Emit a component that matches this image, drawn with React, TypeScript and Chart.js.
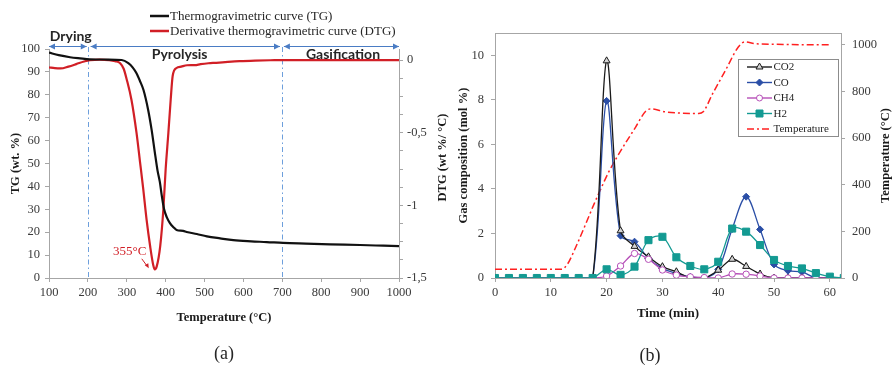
import React, { useEffect, useRef } from 'react';
import { Chart, registerables } from 'chart.js';
Chart.register(...registerables);

const SERIF = "'Liberation Serif', 'Times New Roman', Times, serif";
const SANS = "Lato, 'Open Sans', 'Liberation Sans', sans-serif";
const AXIS = '#a6a6a6';
const TICK_TEXT = '#3a3a3a';
const TITLE_TEXT = '#1a1a1a';

// ---------- Panel (a) data ----------
const tgTemps = [100, 125, 154, 180, 205, 250, 287, 304, 315, 325, 334, 343, 355, 364, 372, 379, 385, 390, 396, 403, 411, 420, 428, 445, 454, 480, 506, 540, 574, 620, 660, 702, 760, 823, 900, 960, 1000];
const tgValues = [98.4, 97.3, 96.4, 95.9, 95.5, 95.4, 95.2, 93.8, 92.0, 89.4, 86.0, 82.1, 73.4, 64.6, 55.0, 47.0, 42.0, 36.0, 30.0, 26.5, 24.0, 22.2, 21.0, 20.6, 20.1, 19.2, 18.2, 17.3, 16.5, 16.0, 15.7, 15.3, 15.0, 14.7, 14.4, 14.1, 13.9];
const dtgTemps = [100, 115, 130, 150, 170, 190, 205, 230, 255, 270, 283, 292, 300, 312, 325, 334, 342, 351, 360, 368, 372, 377, 386, 394, 400, 407, 413, 418, 428, 440, 455, 475, 490, 510, 530, 560, 590, 630, 680, 700, 800, 900, 1000];
const dtgValues = [-0.05, -0.056, -0.058, -0.045, -0.028, -0.01, 0, 0.003, 0, -0.008, -0.022, -0.06, -0.135, -0.273, -0.5, -0.7, -0.88, -1.1, -1.28, -1.41, -1.44, -1.42, -1.28, -1.03, -0.75, -0.5, -0.27, -0.11, -0.055, -0.045, -0.036, -0.035, -0.028, -0.022, -0.019, -0.013, -0.008, -0.004, -0.001, 0, 0, 0, 0];
const dtgTickValues = [0, -0.125, -0.25, -0.375, -0.5, -0.625, -0.75, -0.875, -1, -1.125, -1.25, -1.375, -1.5];
const tgLegend = ['Thermogravimetric curve (TG)', 'Derivative thermogravimetric curve (DTG)'];
const phaseNames = ['Drying', 'Pyrolysis', 'Gasification'];
const phaseStarts = [100, 207, 704];
const phaseEnds = [197, 694, 1000];
const phaseLabelTemps = [156, 436, 856];
const phaseLines = [200, 700];
const peakLabel = '355°C';
const dtgTitle = 'DTG (wt %/ °C)';

// ---------- Panel (b) data ----------
const times = [0, 2.5, 5, 7.5, 10, 12.5, 15, 17.5, 20, 22.5, 25, 27.5, 30, 32.5, 35, 37.5, 40, 42.5, 45, 47.5, 50, 52.5, 55, 57.5, 60, 62.5];
const co2 = [0, 0, 0, 0, 0, 0, 0, 0, 9.75, 2.12, 1.42, 0.95, 0.51, 0.28, 0.0, 0.0, 0.35, 0.84, 0.52, 0.18, 0, 0, 0, 0, 0, 0];
const co = [0, 0, 0, 0, 0, 0, 0, 0, 7.95, 1.9, 1.63, 0.88, 0.43, 0.21, 0.05, 0.0, 0.39, 2.2, 3.65, 2.18, 0.61, 0.33, 0.27, 0.0, 0, 0];
const ch4 = [0, 0, 0, 0, 0, 0, 0, 0, 0.09, 0.54, 1.1, 0.84, 0.36, 0.13, 0.05, 0.02, 0.0, 0.18, 0.17, 0.09, 0, 0, 0, 0, 0, 0];
const h2 = [0, 0, 0, 0, 0, 0, 0, 0, 0.39, 0.14, 0.51, 1.7, 1.85, 0.93, 0.54, 0.39, 0.73, 2.22, 2.08, 1.48, 0.81, 0.54, 0.43, 0.22, 0.06, 0];
const tempTimes = [0, 5, 10, 12, 13, 14.5, 16.3, 17.8, 19.4, 20.3, 21.7, 25.2, 27, 28, 30.5, 33, 36.5, 37.3, 39, 41.3, 43.6, 44.8, 46.6, 50, 55, 60];
const tempValues = [37, 37, 37, 38, 60, 134, 234, 320, 405, 451, 512, 647, 715, 725, 712, 707, 705, 712, 790, 890, 990, 1012, 1004, 1002, 1000, 1000];
const seriesNames = ['CO2', 'CO', 'CH4', 'H2', 'Temperature'];
const tempTitle = 'Temperature (°C)';

const seriesStyle = [
  { color: '#1a1a1a', marker: 'triangle', fill: '#d4d4d4', radius: 4 },
  { color: '#2a4ea6', marker: 'rectRot', fill: '#2a4ea6', radius: 3.5 },
  { color: '#b64fb8', marker: 'circle', fill: '#ffffff', radius: 3.2 },
  { color: '#139a92', marker: 'rect', fill: '#139a92', radius: 5 },
  { color: '#ff2020', marker: 'none', fill: '#ff2020', radius: 0 },
];

const xy = (xs: number[], ys: number[]) => xs.map((x, i) => ({ x, y: ys[i] }));
const plain = (v: any) => String(v);

function arrowHead(ctx: CanvasRenderingContext2D, x: number, y: number, dir: number, len = 6, half = 3) {
  ctx.beginPath();
  ctx.moveTo(x, y);
  ctx.lineTo(x - dir * len, y - half);
  ctx.lineTo(x - dir * len, y + half);
  ctx.closePath();
  ctx.fill();
}

function drawVerticalTitle(ctx: CanvasRenderingContext2D, text: string, x: number, y: number) {
  ctx.save();
  ctx.translate(x, y);
  ctx.rotate(-Math.PI / 2);
  ctx.fillStyle = TITLE_TEXT;
  ctx.font = `bold 12.5px ${SERIF}`;
  ctx.textAlign = 'center';
  ctx.textBaseline = 'middle';
  ctx.fillText(text, 0, 0);
  ctx.restore();
}

function drawMarker(ctx: CanvasRenderingContext2D, kind: string, x: number, y: number, color: string, fill: string) {
  if (kind === 'none') return;
  ctx.save();
  ctx.setLineDash([]);
  ctx.strokeStyle = color;
  ctx.fillStyle = fill;
  ctx.lineWidth = 1;
  ctx.beginPath();
  if (kind === 'triangle') {
    const r = 4;
    ctx.moveTo(x, y - r);
    ctx.lineTo(x + r * 0.866, y + r * 0.5);
    ctx.lineTo(x - r * 0.866, y + r * 0.5);
    ctx.closePath();
  } else if (kind === 'rectRot') {
    const r = 3.5;
    ctx.moveTo(x, y - r);
    ctx.lineTo(x + r, y);
    ctx.lineTo(x, y + r);
    ctx.lineTo(x - r, y);
    ctx.closePath();
  } else if (kind === 'circle') {
    ctx.arc(x, y, 3, 0, Math.PI * 2);
  } else {
    ctx.rect(x - 3.5, y - 3.5, 7, 7);
  }
  ctx.fill();
  ctx.stroke();
  ctx.restore();
}

const panelAPlugin = {
  id: 'panelA',
  beforeDatasetsDraw(chart: any) {
    const { ctx, chartArea, scales } = chart;
    ctx.save();
    ctx.strokeStyle = '#6d9fdc';
    ctx.lineWidth = 1;
    ctx.setLineDash([5, 3, 1.5, 3]);
    phaseLines.forEach((v) => {
      const px = Math.round(scales.x.getPixelForValue(v)) + 0.5;
      ctx.beginPath();
      ctx.moveTo(px, chartArea.top - 2);
      ctx.lineTo(px, chartArea.bottom);
      ctx.stroke();
    });
    ctx.restore();
  },
  afterDatasetsDraw(chart: any) {
    const { ctx, chartArea, scales } = chart;
    ctx.save();
    // phase arrows
    const ay = chartArea.top - 2.5;
    ctx.strokeStyle = '#4a7cc4';
    ctx.fillStyle = '#4a7cc4';
    ctx.lineWidth = 1;
    phaseNames.forEach((_, i) => {
      const x0 = scales.x.getPixelForValue(phaseStarts[i]);
      const x1 = scales.x.getPixelForValue(phaseEnds[i]);
      ctx.beginPath();
      ctx.moveTo(x0, ay);
      ctx.lineTo(x1, ay);
      ctx.stroke();
      arrowHead(ctx, x0, ay, -1);
      arrowHead(ctx, x1, ay, 1);
    });
    // phase labels
    ctx.fillStyle = '#262626';
    ctx.font = `bold 14px ${SANS}`;
    ctx.textAlign = 'center';
    ctx.textBaseline = 'middle';
    const labelOffsets = [-13, 5, 5];
    phaseNames.forEach((name, i) => {
      ctx.fillText(name, scales.x.getPixelForValue(phaseLabelTemps[i]), chartArea.top + labelOffsets[i]);
    });
    // legend
    const lx = chartArea.left + 101;
    const colors = ['#111111', '#d11f26'];
    tgLegend.forEach((name, i) => {
      const ly = 16 + i * 15;
      ctx.strokeStyle = colors[i];
      ctx.lineWidth = 2.5;
      ctx.beginPath();
      ctx.moveTo(lx, ly);
      ctx.lineTo(lx + 19, ly);
      ctx.stroke();
      ctx.fillStyle = '#262626';
      ctx.font = `13px ${SERIF}`;
      ctx.textAlign = 'left';
      ctx.fillText(name, lx + 20, ly + 0.5);
    });
    // peak annotation
    let mi = 0;
    dtgValues.forEach((v, i) => { if (v < dtgValues[mi]) mi = i; });
    const mx = scales.x.getPixelForValue(dtgTemps[mi]);
    const my = scales.y2.getPixelForValue(dtgValues[mi]);
    ctx.fillStyle = '#d11f26';
    ctx.strokeStyle = '#d11f26';
    ctx.font = `13px ${SERIF}`;
    ctx.textAlign = 'center';
    ctx.fillText(peakLabel, mx - 25, my - 18);
    ctx.lineWidth = 1;
    ctx.beginPath();
    ctx.moveTo(mx - 13, my - 10.5);
    ctx.lineTo(mx - 7.5, my - 3);
    ctx.stroke();
    ctx.beginPath();
    ctx.moveTo(mx - 6, my - 1);
    ctx.lineTo(mx - 10, my - 4);
    ctx.lineTo(mx - 6.5, my - 6);
    ctx.closePath();
    ctx.fill();
    ctx.restore();
    // right axis title (reads bottom to top)
    drawVerticalTitle(ctx, dtgTitle, chartArea.right + 44, (chartArea.top + chartArea.bottom) / 2 - 6);
  },
};

const panelBPlugin = {
  id: 'panelB',
  afterDatasetsDraw(chart: any) {
    const { ctx, chartArea } = chart;
    ctx.save();
    ctx.strokeStyle = AXIS;
    ctx.lineWidth = 1;
    ctx.beginPath();
    ctx.moveTo(chartArea.left, chartArea.top + 0.5);
    ctx.lineTo(chartArea.right, chartArea.top + 0.5);
    ctx.stroke();
    // legend box
    const bx = Math.round(chartArea.right - 103) + 0.5;
    const by = Math.round(chartArea.top + 26) + 0.5;
    ctx.fillStyle = '#ffffff';
    ctx.fillRect(bx, by, 100, 77);
    ctx.strokeStyle = '#8c8c8c';
    ctx.strokeRect(bx, by, 100, 77);
    seriesNames.forEach((name, i) => {
      const st = seriesStyle[i];
      const ly = by + 7.5 + i * 15.5;
      ctx.strokeStyle = st.color;
      ctx.lineWidth = 1.4;
      if (st.marker === 'none') ctx.setLineDash([7, 3, 2, 3]);
      else ctx.setLineDash([]);
      ctx.beginPath();
      ctx.moveTo(bx + 8.5, ly);
      ctx.lineTo(bx + 33.5, ly);
      ctx.stroke();
      ctx.setLineDash([]);
      drawMarker(ctx, st.marker, bx + 21, ly, st.color, st.fill);
      ctx.fillStyle = '#262626';
      ctx.font = `11px ${SERIF}`;
      ctx.textAlign = 'left';
      ctx.textBaseline = 'middle';
      ctx.fillText(name, bx + 35, ly + 0.5);
    });
    ctx.restore();
    drawVerticalTitle(ctx, tempTitle, chartArea.right + 45, (chartArea.top + chartArea.bottom) / 2);
  },
};

const tickFont = { family: SERIF, size: 12.5 };
const titleFont = { family: SERIF, size: 12.5, weight: 'bold' as const };
const gridOpts = { display: true, drawOnChartArea: false, drawTicks: true, tickLength: 4, color: AXIS };
const borderOpts = { display: true, color: AXIS, width: 1 };

function makeChartA(canvas: HTMLCanvasElement) {
  return new Chart(canvas, {
    type: 'line',
    data: {
      datasets: [
        {
          label: tgLegend[0],
          data: xy(tgTemps, tgValues),
          borderColor: '#111111',
          borderWidth: 2.2,
          pointRadius: 0,
          cubicInterpolationMode: 'monotone',
          yAxisID: 'y',
        },
        {
          label: tgLegend[1],
          data: xy(dtgTemps, dtgValues),
          borderColor: '#d11f26',
          borderWidth: 2.2,
          pointRadius: 0,
          cubicInterpolationMode: 'monotone',
          yAxisID: 'y2',
        },
      ],
    },
    options: {
      responsive: false,
      animation: false,
      events: [],
      layout: { padding: { top: 49, left: 0, right: 0, bottom: 0 } },
      plugins: { legend: { display: false }, tooltip: { enabled: false } },
      scales: {
        x: {
          type: 'linear',
          min: 100,
          max: 1000,
          ticks: { stepSize: 100, font: tickFont, color: TICK_TEXT, padding: 3, callback: plain },
          grid: gridOpts,
          border: borderOpts,
          title: { display: true, text: 'Temperature (°C)', font: titleFont, color: TITLE_TEXT, padding: { top: 0, bottom: 40 } },
          afterFit: (s: any) => { s.height = 87; },
        },
        y: {
          type: 'linear',
          position: 'left',
          min: 0,
          max: 100,
          ticks: { stepSize: 10, font: tickFont, color: TICK_TEXT, padding: 5, callback: plain },
          grid: gridOpts,
          border: borderOpts,
          title: { display: true, text: 'TG (wt. %)', font: titleFont, color: TITLE_TEXT, padding: { top: 8.5, bottom: 0 } },
          afterFit: (s: any) => { s.width = 49; },
        },
        y2: {
          type: 'linear',
          position: 'right',
          min: -1.5,
          max: 0.076,
          afterBuildTicks: (s: any) => { s.ticks = dtgTickValues.map((v) => ({ value: v })); },
          ticks: {
            font: tickFont,
            color: TICK_TEXT,
            padding: 4,
            callback: (v: any) => {
              const n = Number(v);
              if (Math.abs(n * 2 - Math.round(n * 2)) > 1e-6) return '';
              return n === 0 ? '0' : String(n).replace('.', ',');
            },
          },
          grid: gridOpts,
          border: borderOpts,
          afterFit: (s: any) => { s.width = 61; },
        },
      },
    },
    plugins: [panelAPlugin],
  } as any);
}

function makeChartB(canvas: HTMLCanvasElement) {
  const gasSeries = [co2, co, ch4, h2];
  const drawOrder = [3, 4, 2, 1];
  const pointStyles = ['triangle', 'rectRot', 'circle', 'rect'];
  const datasets: any[] = gasSeries.map((vals, i) => ({
    label: seriesNames[i],
    data: xy(times, vals),
    borderColor: seriesStyle[i].color,
    borderWidth: 1.3,
    pointStyle: pointStyles[i],
    pointRadius: seriesStyle[i].radius,
    pointBackgroundColor: seriesStyle[i].fill,
    pointBorderColor: seriesStyle[i].color,
    pointBorderWidth: 1,
    tension: 0.33,
    order: drawOrder[i],
    yAxisID: 'y',
  }));
  datasets.push({
    label: seriesNames[4],
    data: xy(tempTimes, tempValues),
    borderColor: seriesStyle[4].color,
    borderWidth: 1.5,
    borderDash: [7, 3, 2, 3],
    pointRadius: 0,
    cubicInterpolationMode: 'monotone',
    order: 5,
    yAxisID: 'y2',
  });
  return new Chart(canvas, {
    type: 'line',
    data: { datasets },
    options: {
      responsive: false,
      animation: false,
      events: [],
      layout: { padding: { top: 33, left: 0, right: 0, bottom: 0 } },
      plugins: { legend: { display: false }, tooltip: { enabled: false } },
      scales: {
        x: {
          type: 'linear',
          min: 0,
          max: 62,
          ticks: { stepSize: 10, includeBounds: false, font: tickFont, color: TICK_TEXT, padding: 3, callback: plain },
          grid: gridOpts,
          border: borderOpts,
          title: { display: true, text: 'Time (min)', font: { ...titleFont, size: 13 }, color: TITLE_TEXT, padding: { top: 0, bottom: 44 } },
          afterFit: (s: any) => { s.height = 87; },
        },
        y: {
          type: 'linear',
          position: 'left',
          min: 0,
          max: 11,
          ticks: { stepSize: 2, includeBounds: false, font: tickFont, color: TICK_TEXT, padding: 7, callback: plain },
          grid: gridOpts,
          border: borderOpts,
          title: { display: true, text: 'Gas composition (mol %)', font: titleFont, color: TITLE_TEXT, padding: { top: 10.5, bottom: 0 } },
          afterFit: (s: any) => { s.width = 49; },
        },
        y2: {
          type: 'linear',
          position: 'right',
          min: 0,
          max: 1050,
          ticks: { stepSize: 200, includeBounds: false, font: tickFont, color: TICK_TEXT, padding: 7, callback: plain },
          grid: gridOpts,
          border: borderOpts,
          afterFit: (s: any) => { s.width = 51; },
        },
      },
    },
    plugins: [panelBPlugin],
  } as any);
}

export default function App() {
  const refA = useRef<HTMLCanvasElement>(null);
  const refB = useRef<HTMLCanvasElement>(null);
  useEffect(() => {
    document.body.style.margin = '0';
    const a = makeChartA(refA.current as HTMLCanvasElement);
    const b = makeChartB(refB.current as HTMLCanvasElement);
    let alive = true;
    const fonts: any = (document as any).fonts;
    if (fonts && fonts.load) {
      Promise.all([fonts.load(`bold 14px Lato`), fonts.load(`13px 'Liberation Serif'`), fonts.load(`bold 13px 'Liberation Serif'`)])
        .then(() => { if (alive) { a.update(); b.update(); } })
        .catch(() => {});
    }
    return () => { alive = false; a.destroy(); b.destroy(); };
  }, []);
  const cap = { position: 'absolute' as const, width: 40, textAlign: 'center' as const, font: `18px ${SERIF}`, lineHeight: '20px', color: '#262626' };
  return (
    <div style={{ position: 'absolute', left: 0, top: 0, width: 892, height: 365, background: '#ffffff', overflow: 'hidden' }}>
      <canvas ref={refA} width={460} height={365} style={{ position: 'absolute', left: 0, top: 0, width: 460, height: 365 }} />
      <canvas ref={refB} width={446} height={365} style={{ position: 'absolute', left: 446, top: 0, width: 446, height: 365 }} />
      <div style={{ ...cap, left: 204, top: 343 }}>(a)</div>
      <div style={{ ...cap, left: 630, top: 345 }}>(b)</div>
    </div>
  );
}
